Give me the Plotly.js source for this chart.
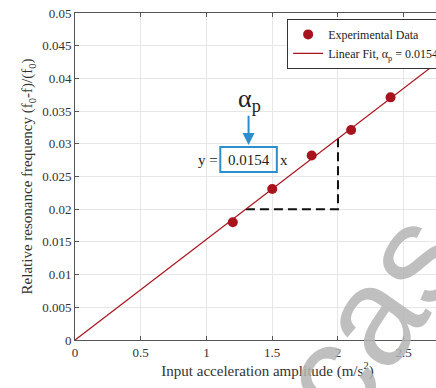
<!DOCTYPE html>
<html><head><meta charset="utf-8">
<script src="https://cdn.plot.ly/plotly-3.0.1.min.js"></script>
<style>html,body{margin:0;padding:0;background:#fff;overflow:hidden;width:436px;height:388px}</style>
</head><body>
<div id="chart" style="width:460px;height:388px"></div>
<script>
const accel = [1.2, 1.5, 1.8, 2.1, 2.4];
const relFreq = [0.018, 0.0231, 0.0282, 0.0321, 0.0371];
const slope = 0.0154;
const fitX = [0, 2.93];
const fitY = fitX.map(x => slope * x);
const xTicks = [0, 0.5, 1, 1.5, 2, 2.5];
const yTicks = [0, 0.005, 0.01, 0.015, 0.02, 0.025, 0.03, 0.035, 0.04, 0.045, 0.05];
const triX = [1.3, 2.0, 2.0];
const triY = [0.02, 0.02, slope * 2.0];

const red = '#a8141e';
const blue = '#2c8fcc';
const serif = '"Liberation Serif", "Times New Roman", serif';

const traces = [
  {x: triX, y: triY, mode: 'lines', line: {color: '#111', width: 2, dash: '9px,5px'}, showlegend: false, hoverinfo: 'skip'},
  {x: accel, y: relFreq, mode: 'markers', name: 'Experimental Data',
   marker: {color: red, size: 10}},
  {x: fitX, y: fitY, mode: 'lines', name: 'Linear Fit, α<sub>p</sub> = 0.0154',
   line: {color: red, width: 1.3}}
];

const layout = {
  width: 460, height: 388,
  margin: {l: 75, r: 0, t: 13, b: 48},
  paper_bgcolor: '#fff', plot_bgcolor: '#fff',
  font: {family: serif, color: '#333', size: 13},
  showlegend: true,
  legend: {x: 0.551, y: 0.982, xanchor: 'left', yanchor: 'top',
           bgcolor: '#fff', bordercolor: '#333', borderwidth: 1,
           font: {family: serif, size: 12, color: '#222'},
           tracegroupgap: 0, itemwidth: 30},
  xaxis: {range: [0, 2.928], tickvals: xTicks, ticktext: xTicks.map(String),
          showgrid: true, gridcolor: '#e6e6e6', zeroline: false,
          showline: true, linecolor: '#555', linewidth: 1, mirror: 'ticks',
          ticks: 'inside', ticklen: 4, tickcolor: '#555',
          tickfont: {family: serif, size: 13, color: '#333'},
          title: {text: 'Input acceleration amplitude (m/s<sup>2</sup>)', standoff: 6,
                  font: {family: serif, size: 15, color: '#333'}}},
  yaxis: {range: [0, 0.05], tickvals: yTicks, ticktext: yTicks.map(String),
          showgrid: true, gridcolor: '#e6e6e6', zeroline: false,
          showline: true, linecolor: '#555', linewidth: 1, mirror: 'ticks',
          ticks: 'inside', ticklen: 4, tickcolor: '#555',
          tickfont: {family: serif, size: 13, color: '#333'},
          title: {text: 'Relative resonance frequency (f<sub>0</sub>-f)/(f<sub>0</sub>)', standoff: 5,
                  font: {family: serif, size: 15, color: '#333'}}},
  shapes: [
    {type: 'rect', xref: 'x', yref: 'y', x0: 1.105, x1: 1.535, y0: 0.0257, y1: 0.0295,
     line: {color: blue, width: 2}, fillcolor: 'rgba(0,0,0,0)'}
  ],
  annotations: [
    {x: 1.1, y: 0.0276, xref: 'x', yref: 'y', text: 'y =', showarrow: false, xanchor: 'right',
     font: {family: serif, size: 15, color: '#222'}},
    {x: 1.32, y: 0.0276, xref: 'x', yref: 'y', text: '0.0154', showarrow: false,
     font: {family: serif, size: 15, color: '#222'}},
    {x: 1.545, y: 0.0276, xref: 'x', yref: 'y', text: 'x', showarrow: false, xanchor: 'left',
     font: {family: serif, size: 15, color: '#222'}},
    {x: 1.32, y: 0.0298, xref: 'x', yref: 'y', ax: 1.32, ay: 0.0345, axref: 'x', ayref: 'y',
     text: '', showarrow: true, arrowhead: 2, arrowsize: 1.2, arrowwidth: 2, arrowcolor: blue},
    {x: 1.33, y: 0.0367, xref: 'x', yref: 'y', text: 'α<sub>p</sub>', showarrow: false,
     font: {family: serif, size: 26, color: '#222'}},
    {x: 0.765, y: 0.07, xref: 'paper', yref: 'paper', xanchor: 'center', yanchor: 'middle',
     text: 'cas', showarrow: false, textangle: -55,
     font: {family: 'Liberation Sans, Arial, sans-serif', size: 140, color: 'rgba(180,180,180,0.85)'}}
  ]
};

Plotly.newPlot('chart', traces, layout, {displayModeBar: false, staticPlot: true});
</script>
</body></html>
